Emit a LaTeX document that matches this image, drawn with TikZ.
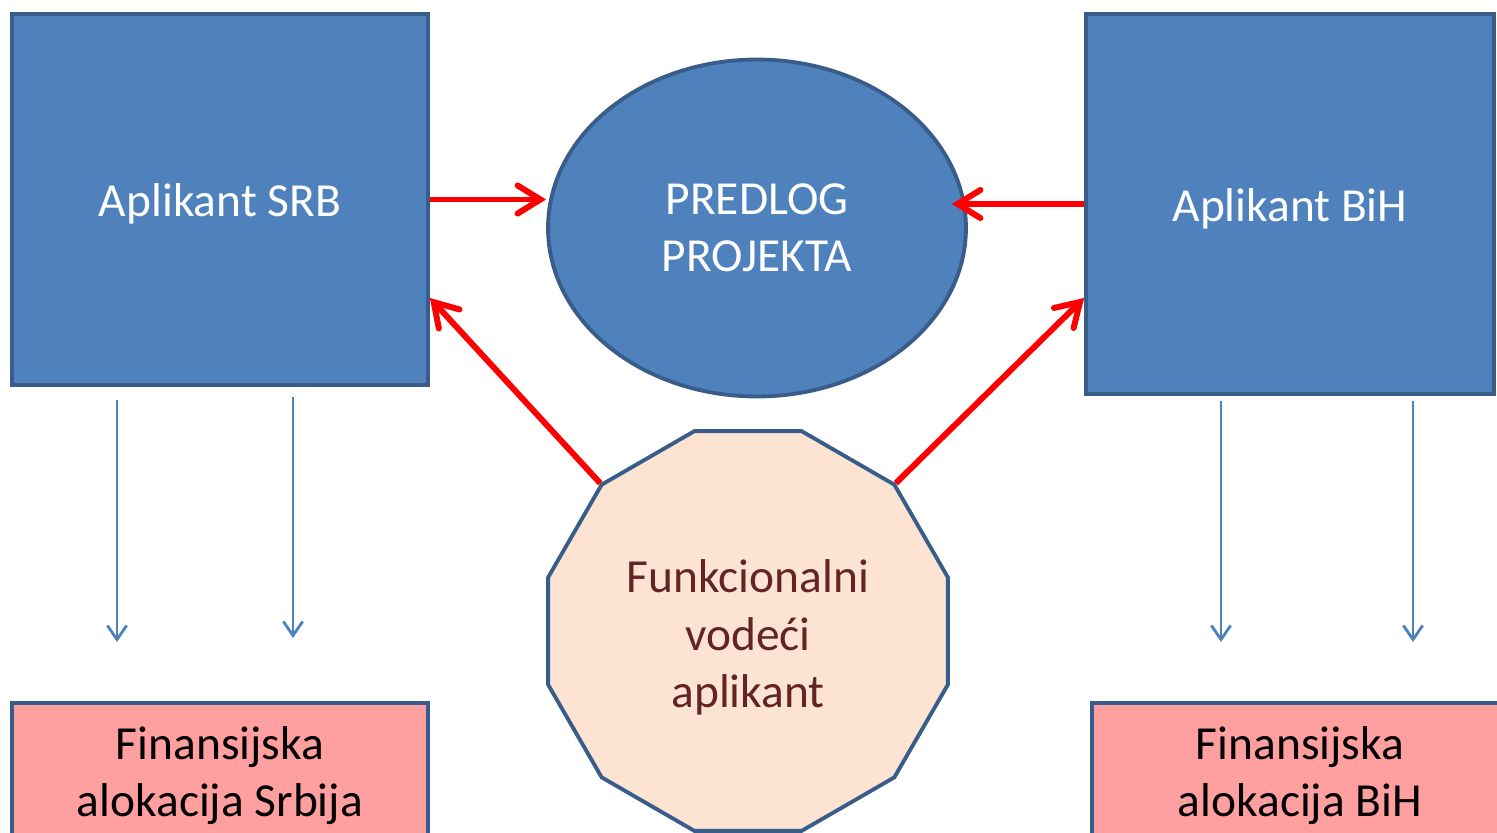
\documentclass[tikz,border=0pt]{standalone}
\usepackage{fontspec}
\setmainfont{Carlito}
\usetikzlibrary{shapes.geometric,arrows.meta}
\definecolor{boxblue}{HTML}{4F81BD}
\definecolor{edgeblue}{HTML}{385D8A}
\definecolor{allocpink}{HTML}{FF9F9F}
\definecolor{leadpeach}{HTML}{FDE4D2}
\definecolor{leadtext}{HTML}{632523}
\begin{document}
\begin{tikzpicture}[x=0.02cm, y=-0.02cm,
  every node/.style={font=\fontsize{27}{32.5}\selectfont, align=center, inner sep=0pt},
  applicant/.style={rectangle, draw=edgeblue, line width=2.2pt, fill=boxblue, text=white,
    text height=24pt},
  allocation/.style={rectangle, draw=edgeblue, line width=2.2pt, fill=allocpink, text=black,
    minimum width=8.32cm, minimum height=2.92cm},
  link/.style={draw=red, line width=3.4pt,
    -{Straight Barb[length=13pt, width=16pt, line cap=round]}},
  flow/.style={draw=boxblue, line width=1.6pt,
    -{Straight Barb[length=8pt, width=11pt]}}]
\useasboundingbox (0,0) rectangle (1497,832);
\clip (0,0) rectangle (1497,832);
\node [applicant, minimum width=8.32cm, minimum height=7.42cm] (srb) at (220,199.5) {Aplikant SRB};
\node [applicant, minimum width=8.16cm, minimum height=7.6cm] (bih) at (1290,204) {Aplikant BiH};
\node [ellipse, draw=edgeblue, line width=2.2pt, fill=boxblue, text=white,
  minimum width=8.36cm, minimum height=6.74cm] (pred) at (757,228) {PREDLOG\\PROJEKTA};
\node [regular polygon, regular polygon sides=12, draw=edgeblue, line width=2.2pt,
  fill=leadpeach, text=leadtext, text height=91pt, minimum size=8.28cm] (lead) at (748,631)
  {Funkcionalni\\vodeći\\aplikant};
\node [allocation] (allocsrb) at (220,776) {Finansijska\\alokacija Srbija};
\node [allocation] (allocbih) at (1300,776) {Finansijska\\alokacija BiH};
\draw [link] (srb.east) -- (srb.east -| pred.west);
\draw [link] (bih.west) -- ([xshift=-0.32cm]bih.west -| pred.east);
\draw [link] (lead.135) -- ([yshift=-1.97cm]srb.east);
\draw [link] (lead.45) -- ([yshift=-1.88cm]bih.west);
\coordinate (s1) at (117,400); \coordinate (e1) at (117,642);
\coordinate (s2) at (293,397); \coordinate (e2) at (293,638);
\coordinate (s3) at (1221,401); \coordinate (e3) at (1221,642);
\coordinate (s4) at (1413,401); \coordinate (e4) at (1413,642);
\draw [flow] (s1) -- (e1);
\draw [flow] (s2) -- (e2);
\draw [flow] (s3) -- (e3);
\draw [flow] (s4) -- (e4);
\end{tikzpicture}
\end{document}
